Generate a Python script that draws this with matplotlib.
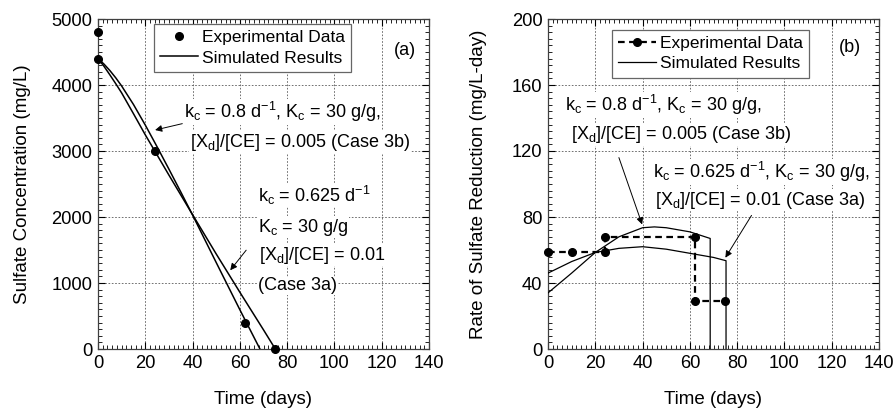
import matplotlib
matplotlib.use("Agg")
import matplotlib.pyplot as plt
from matplotlib.ticker import MultipleLocator

plt.rcParams['font.family'] = ['Liberation Sans', 'DejaVu Sans']
plt.rcParams['mathtext.fontset'] = 'custom'
plt.rcParams['mathtext.rm'] = 'Liberation Sans'
plt.rcParams['mathtext.it'] = 'Liberation Sans'

# (a) sulfate concentration, mg/L
t_exp_a = [0, 0, 24, 62, 75]
so4_exp = [4800, 4400, 3000, 400, 0]
t_sim_3a = [0, 2.5, 5, 7.5, 10, 15, 20, 25, 30, 40, 50, 60, 70, 75]
so4_sim_3a = [4400, 4285, 4155, 4020, 3880, 3565, 3245, 2940, 2635, 2035,
              1440, 860, 290, 0]
t_sim_3b = [0, 2.5, 5, 7.5, 10, 15, 20, 25, 30, 35, 40, 50, 60, 68.5]
so4_sim_3b = [4400, 4318, 4220, 4109, 3985, 3705, 3393, 3063, 2725, 2380,
              2030, 1310, 595, 0]

# (b) rate of sulfate reduction, mg/L-day
t_exp_b = [0, 10, 24, 24, 62, 62, 75]
rate_exp = [59, 59, 59, 68, 68, 29, 29]
t_rate_3a = [0, 10, 20, 30, 40, 50, 60, 70, 75.3, 75.3]
rate_3a = [46, 53, 58.5, 61, 62, 60.5, 58, 55.5, 53.5, 0]
t_rate_3b = [0, 10, 20, 30, 40, 45, 50, 60, 68.6, 68.6]
rate_3b = [34, 46, 58.5, 68, 73.5, 74, 73.5, 71, 67, 0]

FS_TICK = 13.2
FS_LABEL = 13.5
FS_NOTE = 13
FS_LEG = 12.5
txt_box = dict(facecolor='white', edgecolor='none', pad=0.5)
arrow = dict(arrowstyle='-|>', color='black', lw=0.7, mutation_scale=10)


def style_axes(ax, ymax, ymajor, yminor):
    ax.set_xlim(0, 140)
    ax.set_ylim(0, ymax)
    ax.xaxis.set_major_locator(MultipleLocator(20))
    ax.xaxis.set_minor_locator(MultipleLocator(2))
    ax.yaxis.set_major_locator(MultipleLocator(ymajor))
    ax.yaxis.set_minor_locator(MultipleLocator(yminor))
    ax.tick_params(which='both', direction='in', top=True, right=True,
                   labelsize=FS_TICK, pad=4)
    ax.tick_params(which='major', length=5, width=0.8)
    ax.tick_params(which='minor', length=3, width=0.6)
    ax.grid(True, which='major', color='0.35', linestyle=(0, (2, 2)),
            linewidth=0.6)
    for s in ax.spines.values():
        s.set_linewidth(0.9)
        s.set_color('0.25')
    ax.set_xlabel('Time (days)', fontsize=FS_LABEL, labelpad=14)


def note(ax, x, y, s):
    ax.text(x, y, s, fontsize=FS_NOTE, ha='left', va='center',
            bbox=txt_box, zorder=3)


def legend(ax, anchor):
    leg = ax.legend(loc='upper left', bbox_to_anchor=anchor,
                    fontsize=FS_LEG, frameon=True, fancybox=False,
                    handlelength=2.2, handletextpad=0.2, borderpad=0.35,
                    labelspacing=0.3, borderaxespad=0)
    leg.get_frame().set_edgecolor('0.4')
    leg.get_frame().set_linewidth(0.9)
    leg.get_frame().set_alpha(1)


fig = plt.figure(figsize=(8.94, 4.09), dpi=100)
ax1 = fig.add_axes([98 / 894, 60 / 409, 331 / 894, 330 / 409])
ax2 = fig.add_axes([548 / 894, 60 / 409, 331 / 894, 330 / 409])

# ---- panel (a)
style_axes(ax1, 5000, 1000, 100)
ax1.plot(t_exp_a, so4_exp, 'o', color='black', ms=5.5, zorder=5,
         clip_on=False, label='Experimental Data')
ax1.plot(t_sim_3a, so4_sim_3a, '-', color='black', lw=1.1, zorder=4,
         label='Simulated Results')
ax1.plot(t_sim_3b, so4_sim_3b, '-', color='black', lw=1.1, zorder=4)
ax1.set_ylabel('Sulfate Concentration (mg/L)', fontsize=FS_LABEL,
               labelpad=15)

note(ax1, 36.4, 3591,
     r'k$_\mathregular{c}$ = 0.8 d$^\mathregular{-1}$, K$_\mathregular{c}$ = 30 g/g,')
note(ax1, 38.9, 3136, r'[X$_\mathregular{d}$]/[CE] = 0.005 (Case 3b)')
ax1.annotate('', xy=(23.0, 3308), xytext=(36.8, 3424), arrowprops=arrow,
             zorder=4)
note(ax1, 67.7, 2333, r'k$_\mathregular{c}$ = 0.625 d$^\mathregular{-1}$')
note(ax1, 67.7, 1848, r'K$_\mathregular{c}$ = 30 g/g')
note(ax1, 68.1, 1424, r'[X$_\mathregular{d}$]/[CE] = 0.01')
note(ax1, 67.7, 955, '(Case 3a)')
ax1.annotate('', xy=(55.2, 1160), xytext=(63.4, 1530), arrowprops=arrow,
             zorder=4)
ax1.text(129.8, 4530, '(a)', fontsize=FS_NOTE, ha='center', va='center',
         bbox=txt_box, zorder=3)
legend(ax1, (0.169, 0.985))

# ---- panel (b)
style_axes(ax2, 200, 40, 4)
ax2.plot(t_exp_b, rate_exp, 'o', linestyle=(0, (3, 2)), color='black',
         lw=1.6, ms=5.5, zorder=5, clip_on=False, label='Experimental Data')
ax2.plot(t_rate_3a, rate_3a, '-', color='black', lw=0.9, zorder=4,
         label='Simulated Results')
ax2.plot(t_rate_3b, rate_3b, '-', color='black', lw=0.9, zorder=4)
ax2.set_ylabel('Rate of Sulfate Reduction (mg/L-day)', fontsize=FS_LABEL,
               labelpad=18)

note(ax2, 7.2, 147.9,
     r'k$_\mathregular{c}$ = 0.8 d$^\mathregular{-1}$, K$_\mathregular{c}$ = 30 g/g,')
note(ax2, 9.7, 129.7, r'[X$_\mathregular{d}$]/[CE] = 0.005 (Case 3b)')
ax2.annotate('', xy=(40.2, 73.9), xytext=(29.6, 117.6), arrowprops=arrow,
             zorder=4)
note(ax2, 44.4, 107.3,
     r'k$_\mathregular{c}$ = 0.625 d$^\mathregular{-1}$, K$_\mathregular{c}$ = 30 g/g,')
note(ax2, 45.3, 90.3, r'[X$_\mathregular{d}$]/[CE] = 0.01 (Case 3a)')
ax2.annotate('', xy=(74.4, 53.9), xytext=(86.7, 82.4), arrowprops=arrow,
             zorder=4)
ax2.text(127.7, 183, '(b)', fontsize=FS_NOTE, ha='center', va='center',
         bbox=txt_box, zorder=3)
legend(ax2, (0.193, 0.967))

fig.savefig('out.png', dpi=100)
